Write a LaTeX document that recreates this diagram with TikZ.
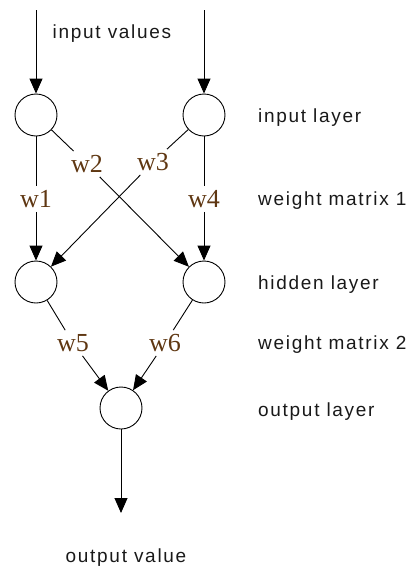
\documentclass[tikz,border=0pt]{standalone}
\usepackage{fontspec}
\setmainfont{Liberation Sans}
\newfontfamily\lblfont[LetterSpace=9]{Liberation Sans}
\newfontfamily\wfont{Liberation Serif}
\usetikzlibrary{arrows.meta}
\definecolor{wcol}{RGB}{95,55,18}
\definecolor{txt}{RGB}{25,25,25}
\begin{document}
\begin{tikzpicture}[x=1pt,y=-1pt,
  neuron/.style={circle,draw,line width=0.9pt,minimum size=42pt,inner sep=0pt},
  wlabel/.style={font=\wfont\fontsize{26}{28}\selectfont,text=wcol,inner sep=4pt},
  caption/.style={font=\lblfont\fontsize{19}{22}\selectfont,text=txt,inner sep=0pt},
  conn/.style={line width=0.9pt},
  arr/.style={line width=0.9pt,-{Triangle[length=15pt,width=13pt]}}]
\useasboundingbox (0,0) rectangle (412,571);
% neurons
\node[neuron] (i1) at (36,115) {};
\node[neuron] (i2) at (204,115) {};
\node[neuron] (h1) at (36,282) {};
\node[neuron] (h2) at (204,282) {};
\node[neuron] (o) at (121,408) {};
% free ends
\coordinate (t1) at (36,10);
\coordinate (t2) at (204,10);
\coordinate (ob) at (121,513);
% weight labels
\node[wlabel] (w1) at (36,199) {w1};
\node[wlabel] (w4) at (204,199) {w4};
\node[wlabel] (w2) at (87,164) {w2};
\node[wlabel] (w3) at (153,162) {w3};
\node[wlabel] (w5) at (73,343) {w5};
\node[wlabel] (w6) at (165,343) {w6};
% connectors
\draw[arr] (t1) -- (i1);
\draw[arr] (t2) -- (i2);
\draw[conn] (i1) -- (w1);
\draw[arr] (w1) -- (h1);
\draw[conn] (i2) -- (w4);
\draw[arr] (w4) -- (h2);
\draw[conn] (i1) -- (w2);
\draw[arr] (w2) -- (h2);
\draw[conn] (i2) -- (w3);
\draw[arr] (w3) -- (h1);
\draw[conn] (h1) -- (w5);
\draw[arr] (w5) -- (o);
\draw[conn] (h2) -- (w6);
\draw[arr] (w6) -- (o);
\draw[arr] (o) -- (ob);
% captions
\node[caption,anchor=base] (iv) at (112,38) {input values};
\node[caption,anchor=base] (ov) at (126,562) {output value};
\node[caption,anchor=base west] (l1) at (258,122) {input layer};
\node[caption,anchor=base west] (l2) at (258,205) {weight matrix 1};
\node[caption,anchor=base west] (l3) at (258,289) {hidden layer};
\node[caption,anchor=base west] (l4) at (258,349) {weight matrix 2};
\node[caption,anchor=base west] (l5) at (258,416) {output layer};
\end{tikzpicture}
\end{document}
